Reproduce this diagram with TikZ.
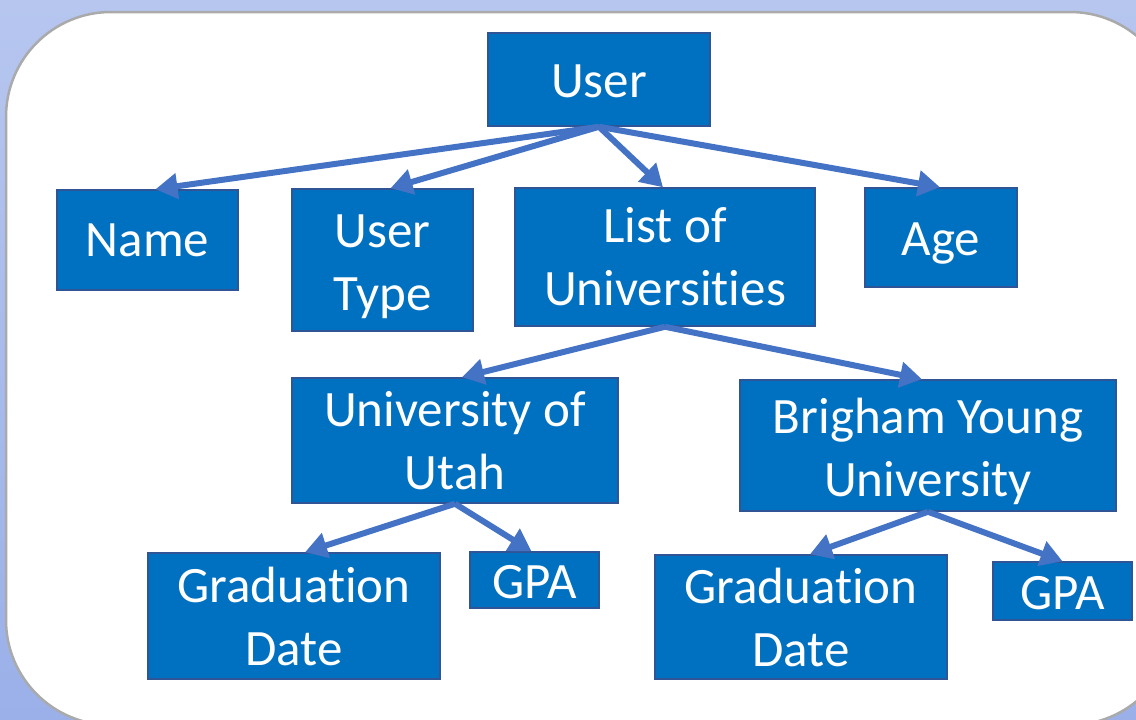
\documentclass[tikz,border=0pt]{standalone}
\usepackage{fontspec}
\setmainfont[Ligatures=NoCommon]{Carlito}
\usetikzlibrary{arrows.meta}
\definecolor{bgtop}{RGB}{182,198,239}
\definecolor{bgbot}{RGB}{155,176,233}
\definecolor{boxfill}{RGB}{0,112,192}
\definecolor{boxline}{RGB}{47,85,151}
\definecolor{arrowc}{RGB}{68,114,196}
\definecolor{framec}{RGB}{170,170,170}
\newcommand\mystrut[1]{\rule{0pt}{#1}}
\tikzset{
  box/.style={draw=boxline, line width=1.5pt, fill=boxfill, text=white, inner sep=0pt,
    align=center, font=\fontsize{51}{63}\selectfont},
  arr/.style={draw=arrowc, line width=6pt, -{Triangle[length=22pt,width=25pt]}}
}
\begin{document}
\begin{tikzpicture}[x=1pt,y=-1pt]
\useasboundingbox (0,0) rectangle (1136,720);
\clip (0,0) rectangle (1136,720);
\shade[top color=bgtop, bottom color=bgbot] (0,0) rectangle (1136,720);
\draw[framec, line width=2.5pt, fill=white, rounded corners=105pt] (6,12) rectangle (1175,725);

\node[box, minimum width=222pt, minimum height=93pt] (user) at (599,79.5) {\mystrut{37pt}User};
\node[box, minimum width=181pt, minimum height=100pt] (name) at (147.5,240) {Name};
\node[box, minimum width=181pt, minimum height=142pt] (utype) at (382.5,260) {\mystrut{47pt}User\\Type};
\node[box, minimum width=300pt, minimum height=138pt] (list) at (665,257) {List of\\Universities};
\node[box, minimum width=152pt, minimum height=99pt] (age) at (941,237.5) {\mystrut{45pt}Age};
\node[box, minimum width=326pt, minimum height=125pt] (uofu) at (455,440.5) {University of\\Utah};
\node[box, minimum width=376pt, minimum height=131pt] (byu) at (928,445.5) {\mystrut{48pt}Brigham Young\\University};
\node[box, minimum width=292pt, minimum height=126pt] (gradl) at (294,616) {Graduation\\Date};
\node[box, minimum width=129pt, minimum height=56pt] (gpal) at (534.5,580) {\mystrut{37pt}GPA};
\node[box, minimum width=292pt, minimum height=124pt] (gradr) at (801,617) {Graduation\\Date};
\node[box, minimum width=139pt, minimum height=58pt] (gpar) at (1062.5,591) {\mystrut{37pt}GPA};

\draw[arr] (user.south) -- ([xshift=8pt]name.north);
\draw[arr] (user.south) -- ([xshift=8pt]utype.north);
\draw[arr] (user.south) -- ([xshift=-2pt]list.north);
\draw[arr] (user.south) -- ([xshift=-1pt]age.north);
\draw[arr] (list.south) -- ([xshift=7pt]uofu.north);
\draw[arr] (list.south) -- ([xshift=-6pt]byu.north);
\draw[arr] (uofu.south) -- ([xshift=11pt]gradl.north);
\draw[arr] (uofu.south) -- ([xshift=-3pt]gpal.north);
\draw[arr] (byu.south) -- ([xshift=9pt]gradr.north);
\draw[arr] (byu.south) -- (gpar.north);
\end{tikzpicture}
\end{document}
